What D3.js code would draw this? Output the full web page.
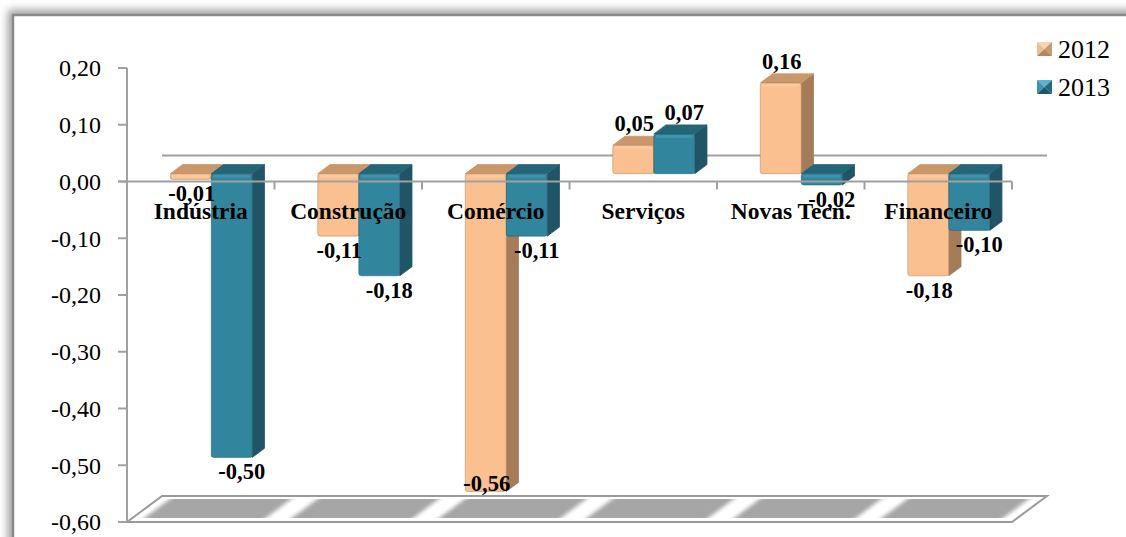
<!DOCTYPE html>
<html>
<head>
<meta charset="utf-8">
<script src="https://cdn.jsdelivr.net/npm/d3@7"></script>
<style>
  html, body { margin: 0; padding: 0; background: #ffffff; }
  svg { display: block; }
  text { font-family: "Liberation Serif", "Times New Roman", serif; fill: #000; }
</style>
</head>
<body>
<svg id="chart" width="1126" height="537"></svg>
<script>
// ---- data ----
const categories = ["Indústria", "Construção", "Comércio", "Serviços", "Novas Tecn.", "Financeiro"];
const seriesNames = ["2012", "2013"];
const values2012 = [-0.01, -0.11, -0.56, 0.05, 0.16, -0.18];
const values2013 = [-0.50, -0.18, -0.11, 0.07, -0.02, -0.10];
const yTickValues = [0.20, 0.10, 0.00, -0.10, -0.20, -0.30, -0.40, -0.50, -0.60];

const seriesValues = [values2012, values2013];

// colours for the three visible faces of each 3D column
const faceColors = {
  "2012": { front: "#FAC090", top: "#C9976A", side: "#A67B58", light: "#FCD9B8" },
  "2013": { front: "#31859C", top: "#246578", side: "#1F5566", light: "#5AAEC6" }
};

const ptBR = d3.formatLocale({ decimal: ",", thousands: ".", grouping: [3], currency: ["R$", ""], minus: "-" });
const fmt = ptBR.format(".2f");

const svg = d3.select("#chart");

// ---- scales ----
const plotLeft = 127, plotRight = 1012;
const x0 = d3.scaleBand().domain(categories).range([plotLeft, plotRight]).padding(0);
const x1 = d3.scaleBand().domain(seriesNames).range([0, x0.bandwidth()]).paddingInner(0).paddingOuter(0.8);
const y = d3.scaleLinear().domain([-0.6, 0.2]).range([522, 68]);

// oblique depth of the whole plot box and of the columns inside it
const depth = { dx: 35, dy: -26 };
const barFront = 0.30, barBack = 0.65;
const off = f => ({ dx: depth.dx * f, dy: depth.dy * f });
const fOff = off(barFront);
const bDepth = { dx: depth.dx * (barBack - barFront), dy: depth.dy * (barBack - barFront) };

// ---- chart frame with soft shadow ----
const defs = svg.append("defs");
const sh = defs.append("filter").attr("id", "frameShadow")
  .attr("x", "-5%").attr("y", "-5%").attr("width", "110%").attr("height", "110%");
sh.append("feGaussianBlur").attr("stdDeviation", 4);

const floorBlur = defs.append("filter").attr("id", "floorBlur")
  .attr("x", "-10%").attr("y", "-30%").attr("width", "120%").attr("height", "160%");
floorBlur.append("feGaussianBlur").attr("stdDeviation", "3 0.6");

svg.append("rect")
  .attr("x", 13).attr("y", 15).attr("width", 1300).attr("height", 700)
  .attr("fill", "none").attr("stroke", "#9a9a9a").attr("stroke-width", 10)
  .attr("filter", "url(#frameShadow)");
svg.append("rect")
  .attr("x", 13).attr("y", 15).attr("width", 1300).attr("height", 700)
  .attr("fill", "#ffffff").attr("stroke", "#8a8a8a").attr("stroke-width", 2.5);

// ---- floor of the 3D box at the axis minimum ----
const yMin = y(-0.6);
const floorPts = [
  [plotLeft, yMin], [plotRight, yMin],
  [plotRight + depth.dx, yMin + depth.dy], [plotLeft + depth.dx, yMin + depth.dy]
];
svg.append("polygon")
  .attr("points", floorPts.map(p => p.join(",")).join(" "))
  .attr("fill", "#ffffff").attr("stroke", "#9a9a9a").attr("stroke-width", 2);

const stripG = svg.append("g").attr("filter", "url(#floorBlur)");
categories.forEach(c => {
  const a = off(0.15), b = off(0.88);
  const xl = x0(c) + 12, xr = x0(c) + x0.bandwidth() - 14;
  const pts = [
    [xl + a.dx, yMin + a.dy], [xr + a.dx, yMin + a.dy],
    [xr + b.dx, yMin + b.dy], [xl + b.dx, yMin + b.dy]
  ];
  stripG.append("polygon")
    .attr("points", pts.map(p => p.join(",")).join(" "))
    .attr("fill", "#a6a6a6");
});

// ---- back edge of the zero plane ----
svg.append("line")
  .attr("x1", plotLeft + depth.dx).attr("x2", plotRight + depth.dx)
  .attr("y1", y(0) + depth.dy).attr("y2", y(0) + depth.dy)
  .attr("stroke", "#a0a0a0").attr("stroke-width", 2);

// ---- value axis ----
const yAxisG = svg.append("g").attr("class", "y-axis");
yAxisG.append("line")
  .attr("x1", plotLeft).attr("x2", plotLeft)
  .attr("y1", y(0.2)).attr("y2", y(-0.6))
  .attr("stroke", "#a0a0a0").attr("stroke-width", 2);
yAxisG.selectAll("line.tick").data(yTickValues).join("line")
  .attr("class", "tick")
  .attr("x1", plotLeft - 9).attr("x2", plotLeft)
  .attr("y1", d => y(d)).attr("y2", d => y(d))
  .attr("stroke", "#a0a0a0").attr("stroke-width", 2);
yAxisG.selectAll("text").data(yTickValues).join("text")
  .attr("x", plotLeft - 26).attr("y", d => y(d))
  .attr("dy", "0.35em")
  .attr("text-anchor", "end")
  .style("font-size", "24px")
  .text(d => fmt(d));

// ---- 3D columns ----
const barsG = svg.append("g").attr("class", "bars");
const barData = [];
categories.forEach((c, ci) => {
  seriesNames.forEach((s, si) => {
    barData.push({ cat: c, series: s, si, value: seriesValues[si][ci] });
  });
});

const poly = pts => pts.map(p => p.join(",")).join(" ");

barData.forEach(d => {
  const col = faceColors[d.series];
  const w = x1.bandwidth();
  const xf = x0(d.cat) + x1(d.series) + fOff.dx;
  const y0 = y(0) + fOff.dy;
  const yv = y(d.value) + fOff.dy;
  const yTop = Math.min(y0, yv), yBot = Math.max(y0, yv);
  const g = barsG.append("g");

  // side face
  g.append("polygon")
    .attr("points", poly([
      [xf + w, yTop], [xf + w + bDepth.dx, yTop + bDepth.dy],
      [xf + w + bDepth.dx, yBot + bDepth.dy], [xf + w, yBot]
    ]))
    .attr("fill", col.side).attr("stroke", col.side).attr("stroke-width", 0.8)
    .attr("stroke-linejoin", "round");
  // top face
  g.append("polygon")
    .attr("points", poly([
      [xf, yTop], [xf + w, yTop],
      [xf + w + bDepth.dx, yTop + bDepth.dy], [xf + bDepth.dx, yTop + bDepth.dy]
    ]))
    .attr("fill", col.top).attr("stroke", col.top).attr("stroke-width", 0.8)
    .attr("stroke-linejoin", "round");
  // front face
  g.append("rect")
    .attr("x", xf).attr("y", yTop)
    .attr("width", w).attr("height", Math.max(yBot - yTop, 1))
    .attr("rx", 2.5)
    .attr("fill", col.front)
    .attr("stroke", col.side).attr("stroke-opacity", 0.45).attr("stroke-width", 1);
  // soft highlight along the upper front edge
  g.append("rect")
    .attr("x", xf + 2).attr("y", yTop + 1)
    .attr("width", w - 4).attr("height", Math.min(3, Math.max(yBot - yTop - 2, 0)))
    .attr("fill", col.light).attr("opacity", 0.35);
});

// ---- category axis (front edge of zero plane) ----
const xAxisG = svg.append("g").attr("class", "x-axis");
xAxisG.append("line")
  .attr("x1", plotLeft - 9).attr("x2", plotRight)
  .attr("y1", y(0)).attr("y2", y(0))
  .attr("stroke", "#a0a0a0").attr("stroke-width", 2);
const boundaries = categories.map(c => x0(c)).concat([plotRight]);
xAxisG.selectAll("line.tick").data(boundaries.slice(1)).join("line")
  .attr("class", "tick")
  .attr("x1", d => d).attr("x2", d => d)
  .attr("y1", y(0)).attr("y2", y(0) + 8)
  .attr("stroke", "#a0a0a0").attr("stroke-width", 2);
xAxisG.selectAll("text").data(categories).join("text")
  .attr("x", d => x0(d) + x0.bandwidth() / 2)
  .attr("y", y(0) + 37)
  .attr("text-anchor", "middle")
  .style("font-size", "23.5px").style("font-weight", "bold")
  .text(d => d);

// ---- data labels ----
const labelFloor = y(-0.6) - 39;
svg.append("g").attr("class", "labels")
  .selectAll("text").data(barData).join("text")
  .attr("x", d => x0(d.cat) + x1(d.series) + fOff.dx + x1.bandwidth() / 2 + (d.si === 0 ? 1 : 10))
  .attr("y", d => {
    const end = y(d.value) + fOff.dy;
    const cy = d.value < 0 ? Math.min(end + 14, labelFloor) : end - 22;
    return cy;
  })
  .attr("dy", "0.35em")
  .attr("text-anchor", "middle")
  .style("font-size", "22.5px").style("font-weight", "bold")
  .text(d => fmt(d.value));

// ---- legend with bevelled swatches ----
const legend = svg.append("g").attr("class", "legend");
const swatchShades = {
  "2012": ["#F7D4B2", "#E9BE95", "#C79A6E", "#B5885F"],
  "2013": ["#5DB3CE", "#3B95AF", "#246A80", "#1D5768"]
};
seriesNames.forEach((s, i) => {
  const sx = 1037, sy = 42 + i * 38, sw = 15, shh = 14;
  const cx = sx + sw / 2, cy = sy + shh / 2;
  const corners = [[sx, sy], [sx + sw, sy], [sx + sw, sy + shh], [sx, sy + shh]];
  const tris = [
    [corners[0], corners[1], [cx, cy]], // top
    [corners[0], corners[3], [cx, cy]], // left
    [corners[1], corners[2], [cx, cy]], // right
    [corners[3], corners[2], [cx, cy]]  // bottom
  ];
  tris.forEach((t, k) => {
    legend.append("polygon").attr("points", poly(t)).attr("fill", swatchShades[s][k]);
  });
  legend.append("text")
    .attr("x", 1058).attr("y", sy + 16)
    .style("font-size", "26px")
    .text(s);
});
</script>
</body>
</html>
